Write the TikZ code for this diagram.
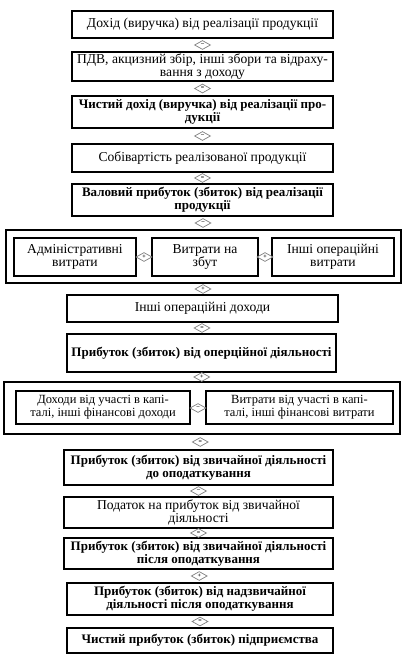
\documentclass[tikz,border=0pt]{standalone}
\usepackage{fontspec}
\setmainfont{Liberation Serif}
\usetikzlibrary{shapes.geometric,calc}
\begin{document}
\begin{tikzpicture}[x=1pt,y=-1pt,
  box/.style={draw, line width=1.1pt, align=center, inner sep=1pt, font=\fontsize{13.6}{13}\selectfont},
  sbox/.style={box, font=\fontsize{12.5}{13}\selectfont},
  bbox/.style={box, font=\fontsize{13}{13}\selectfont\bfseries},
  outer/.style={draw, line width=1.1pt, inner sep=0pt},
  op/.style={diamond, aspect=2, draw=black!50, line width=0.7pt, fill=white, inner sep=0pt,
    minimum width=16pt, minimum height=9pt, font=\fontsize{6}{6}\selectfont\bfseries}]
\useasboundingbox (0,0) rectangle (406,660);
\fill[white] (0,0) rectangle (406,660);
% main column top
\node[box, minimum width=261, minimum height=27] (b1) at (202.5,24.5) {Дохід (виручка) від реалізації продукції};
\node[box, minimum width=261, minimum height=29] (b2) at (202.5,66.5) {ПДВ, акцизний збір, інші збори та відраху-\\вання з доходу};
\node[bbox, minimum width=261, minimum height=32] (b3) at (202.5,112) {Чистий дохід (виручка) від реалізації про-\\дукції};
\node[box, minimum width=261, minimum height=28] (b4) at (202.5,158) {Собівартість реалізованої продукції};
\node[bbox, minimum width=261, minimum height=32] (b5) at (202.5,200) {Валовий прибуток (збиток) від реалізації\\продукції};
% expenses group
\node[outer, minimum width=395, minimum height=53] (g1) at (203.5,256.5) {};
\node[box, minimum width=122, minimum height=38] (ea) at (75,257) {Адміністративні\\витрати};
\node[box, minimum width=106, minimum height=38] (eb) at (205,257) {Витрати на\\збут};
\node[box, minimum width=122, minimum height=38] (ec) at (333,257) {Інші операційні\\витрати};
\node[op] (p1) at (144,257) {+};
\node[op] (p2) at (265,257) {+};
\node[box, minimum width=271, minimum height=27] (b6) at (202.5,308.5) {Інші операційні доходи};
\node[bbox, minimum width=269, minimum height=38] (b7) at (201.5,353) {Прибуток (збиток) від оперційної діяльності};
% financial group
\node[outer, minimum width=396, minimum height=52] (g2) at (202,408) {};
\node[sbox, minimum width=174, minimum height=33] (fa) at (103,407.5) {Доходи від участі в капі-\\талі, інші фінансові доходи};
\node[sbox, minimum width=187, minimum height=33] (fb) at (299.5,407.5) {Витрати від участі в капі-\\талі, інші фінансові витрати};
\node[op] (m1) at (198,408) {--};
% lower column
\node[bbox, minimum width=269, minimum height=35] (b8) at (198.5,467.5) {Прибуток (збиток) від звичайної діяльності\\до оподаткування};
\node[box, minimum width=269, minimum height=31] (b9) at (198.5,512.5) {Податок на прибуток від звичайної\\діяльності};
\node[bbox, minimum width=269, minimum height=31] (b10) at (198.5,553.5) {Прибуток (збиток) від звичайної діяльності\\після оподаткування};
\node[bbox, minimum width=266, minimum height=32] (b11) at (200,599) {Прибуток (збиток) від надзвичайної\\діяльності після оподаткування};
\node[bbox, minimum width=266, minimum height=25] (b12) at (200,640.5) {Чистий прибуток (збиток) підприємства};
% operators between boxes
\node[op] (o1) at ($(b1.south)!0.5!(b2.north)$) {--};
\node[op] (o2) at ($(b2.south)!0.5!(b3.north)$) {=};
\node[op] (o3) at ($(b3.south)!0.5!(b4.north)$) {--};
\node[op] (o4) at ($(b4.south)!0.5!(b5.north)$) {=};
\node[op] (o5) at ($(b5.south)!0.5!(g1.north)$) {--};
\node[op] (o6) at ($(g1.south)!0.5!(b6.north)$) {+};
\node[op] (o7) at ($(b6.south)!0.5!(b7.north)$) {=};
\node[op] (o8) at ($(b7.south)!0.5!(g2.north)$) {+};
\node[op] (o9) at ($(g2.south)!0.5!(b8.north)$) {=};
\node[op] (o10) at ($(b8.south)!0.5!(b9.north)$) {--};
\node[op] (o11) at ($(b9.south)!0.5!(b10.north)$) {=};
\node[op] (o12) at ($(b10.south)!0.5!(b11.north)$) {+};
\node[op] (o13) at ($(b11.south)!0.5!(b12.north)$) {=};
\end{tikzpicture}
\end{document}
